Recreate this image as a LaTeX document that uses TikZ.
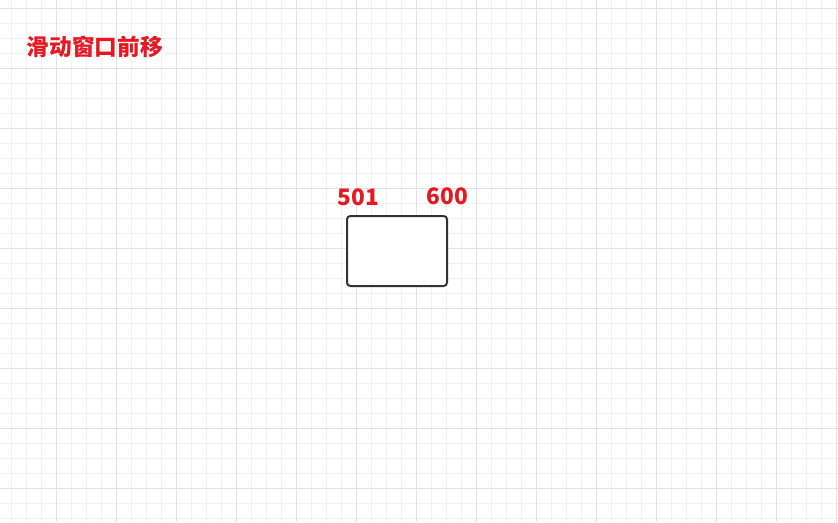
\documentclass[tikz,border=0pt]{standalone}
\usepackage{fontspec}
\usepackage{tikz}
\usetikzlibrary{positioning}
\newfontfamily\cjk{Noto Sans CJK SC}
\definecolor{winred}{RGB}{230,25,35}
\definecolor{gridlo}{RGB}{241,241,241}
\definecolor{gridhi}{RGB}{225,225,225}
\tikzset{
  winbox/.style={draw={rgb,255:red,51;green,51;blue,51},line width=1.5pt,rounded corners=2.5pt,
    fill=white,minimum width=75pt,minimum height=52.5pt,inner sep=0pt},
  redtext/.style={text=winred,font=\cjk\bfseries\fontsize{17}{19}\selectfont,inner sep=0.75pt}
}

\begin{document}
\begin{tikzpicture}[x=0.75pt,y=0.75pt,yscale=-1,xscale=1]
\useasboundingbox (0,0) rectangle (838,522);
\fill[white] (0,0) rectangle (838,522);

% background grid
\foreach \x in {11.7,26.7,...,838} \draw[gridlo,line width=0.6pt] (\x,0) -- (\x,522);
\foreach \y in {8.3,23.3,...,522} \draw[gridlo,line width=0.6pt] (0,\y) -- (838,\y);
\foreach \x in {56.7,116.7,...,838} \draw[gridhi,line width=0.6pt] (\x,0) -- (\x,522);
\foreach \y in {8.3,68.3,...,522} \draw[gridhi,line width=0.6pt] (0,\y) -- (838,\y);

% Text Node
\node[redtext,anchor=west] (title) at (25.5,46.5) {滑动窗口前移};

%Shape: Rectangle
\node[winbox] (win) at (397,251) {};

% Text Node
\node[redtext] (lo) at (358.5,197) {501};
% Text Node
\node[redtext] (hi) at (447.5,196) {600};

\end{tikzpicture}
\end{document}
